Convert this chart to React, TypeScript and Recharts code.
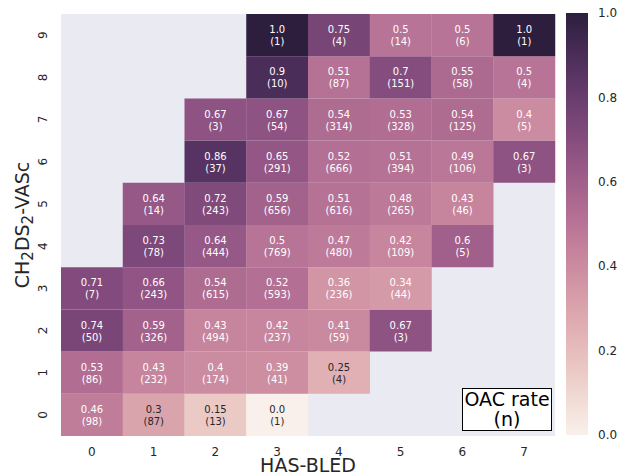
import React from 'react';
import { BarChart, Bar, XAxis, YAxis, CartesianGrid, Cell, LabelList, Label } from 'recharts';

// HAS-BLED score columns, CHA2DS2-VASc rows (bottom to top)
const hasBled = ['0', '1', '2', '3', '4', '5', '6', '7'];
const chadsVasc = [0, 1, 2, 3, 4, 5, 6, 7, 8, 9];

// OAC rate per cell, one row per CHA2DS2-VASc score (null = no patients)
const oacRate: (number | null)[][] = [
  [0.46, 0.3, 0.15, 0.0, null, null, null, null],
  [0.53, 0.43, 0.4, 0.39, 0.25, null, null, null],
  [0.74, 0.59, 0.43, 0.42, 0.41, 0.67, null, null],
  [0.71, 0.66, 0.54, 0.52, 0.36, 0.34, null, null],
  [null, 0.73, 0.64, 0.5, 0.47, 0.42, 0.6, null],
  [null, 0.64, 0.72, 0.59, 0.51, 0.48, 0.43, null],
  [null, null, 0.86, 0.65, 0.52, 0.51, 0.49, 0.67],
  [null, null, 0.67, 0.67, 0.54, 0.53, 0.54, 0.4],
  [null, null, null, 0.9, 0.51, 0.7, 0.55, 0.5],
  [null, null, null, 1.0, 0.75, 0.5, 0.5, 1.0],
];

// number of patients per cell
const patients: (number | null)[][] = [
  [98, 87, 13, 1, null, null, null, null],
  [86, 232, 174, 41, 4, null, null, null],
  [50, 326, 494, 237, 59, 3, null, null],
  [7, 243, 615, 593, 236, 44, null, null],
  [null, 78, 444, 769, 480, 109, 5, null],
  [null, 14, 243, 656, 616, 265, 46, null],
  [null, null, 37, 291, 666, 394, 106, 3],
  [null, null, 3, 54, 314, 328, 125, 5],
  [null, null, null, 10, 87, 151, 58, 4],
  [null, null, null, 1, 4, 14, 6, 1],
];

const colorbarTicks = [0, 0.2, 0.4, 0.6, 0.8, 1.0];
const colorbarSpan = [{ name: 'OAC rate', v: 1 }];

const FONT = '"DejaVu Sans", sans-serif';
const INK = '#262626';

// seaborn cubehelix_palette(light=.95, dark=.15) as a continuous map
function cubehelix(v: number): number[] {
  const x = 0.95 - 0.8 * v;
  const a = (0.8 * x * (1 - x)) / 2;
  const phi = 2 * Math.PI * 0.4 * x;
  const c = Math.cos(phi);
  const s = Math.sin(phi);
  return [
    x + a * (-0.14861 * c + 1.78277 * s),
    x + a * (-0.29227 * c - 0.90649 * s),
    x + a * (1.97294 * c),
  ].map((k) => Math.min(1, Math.max(0, k)));
}

const toHex = (rgb: number[]) =>
  '#' + rgb.map((k) => Math.round(k * 255).toString(16).padStart(2, '0')).join('');

const luminance = (rgb: number[]) => {
  const lin = rgb.map((k) => (k <= 0.03928 ? k / 12.92 : Math.pow((k + 0.055) / 1.055, 2.4)));
  return 0.2126 * lin[0] + 0.7152 * lin[1] + 0.0722 * lin[2];
};

const fmtRate = (v: number) => (Number.isInteger(v) ? v.toFixed(1) : String(v));

// every cell is one unit tall; stacking 10 of them builds the grid
const columns = hasBled.map((label) => {
  const d: Record<string, any> = { label };
  chadsVasc.forEach((r) => (d[`r${r}`] = 1));
  return d;
});

const CellText = (p: any) => {
  const col = p.index;
  const v = oacRate[p.row][col];
  if (v == null) return null;
  const cx = p.x + p.width / 2;
  const cy = p.y + p.height / 2;
  const fill = luminance(cubehelix(v)) > 0.408 ? INK : '#ffffff';
  return (
    <text textAnchor="middle" dominantBaseline="central" fontSize={10} fontFamily={FONT} fill={fill}>
      <tspan x={cx} y={cy - 6}>{fmtRate(v)}</tspan>
      <tspan x={cx} y={cy + 6}>({patients[p.row][col]})</tspan>
    </text>
  );
};

const YTick = (p: any) => {
  const cx = p.x - 10;
  return (
    <text
      x={cx}
      y={p.y}
      transform={`rotate(-90 ${cx} ${p.y})`}
      textAnchor="middle"
      dominantBaseline="central"
      fontSize={12}
      fontFamily={FONT}
      fill={INK}
    >
      {p.payload.value - 0.5}
    </text>
  );
};

const YTitle = (p: any) => {
  const vb = p.viewBox ?? { y: 14, height: 422 };
  const cy = vb.y + vb.height / 2;
  const bx = 29;
  return (
    <text
      x={bx}
      y={cy}
      transform={`rotate(-90 ${bx} ${cy})`}
      textAnchor="middle"
      fontSize={19}
      fontFamily={FONT}
      fill={INK}
    >
      CH<tspan fontSize={15} dy={4}>2</tspan>
      <tspan dy={-4}>DS</tspan>
      <tspan fontSize={15} dy={4}>2</tspan>
      <tspan dy={-4}>-VASc</tspan>
    </text>
  );
};

const gradientStops = Array.from({ length: 21 }, (_, i) => i / 20);

export default function App() {
  return (
    <div style={{ position: 'absolute', left: 0, top: 0, width: 630, height: 475, background: '#fff' }}>
      <BarChart
        width={560}
        height={475}
        data={columns}
        margin={{ top: 14, right: 5, bottom: 0, left: 0 }}
        barCategoryGap={0}
        barGap={0}
      >
        <CartesianGrid fill="#EAEAF2" horizontal={false} vertical={false} />
        <XAxis
          dataKey="label"
          height={39}
          axisLine={false}
          tickLine={false}
          tickMargin={5}
          interval={0}
          tick={{ fontSize: 12, fill: INK, fontFamily: FONT }}
        >
          <Label value="HAS-BLED" position="insideBottom" offset={3} style={{ fontSize: 19, fill: INK, fontFamily: FONT }} />
        </XAxis>
        <YAxis
          type="number"
          domain={[0, 10]}
          ticks={chadsVasc.map((r) => r + 0.5)}
          interval={0}
          width={61}
          axisLine={false}
          tickLine={false}
          tick={<YTick />}
        >
          <Label content={<YTitle />} />
        </YAxis>
        {chadsVasc.map((row) => (
          <Bar key={row} dataKey={`r${row}`} stackId="grid" isAnimationActive={false}>
            {hasBled.map((_, col) => {
              const v = oacRate[row][col];
              return <Cell key={col} fill={v == null ? 'transparent' : toHex(cubehelix(v))} />;
            })}
            <LabelList dataKey={`r${row}`} content={(p: any) => <CellText {...p} row={row} />} />
          </Bar>
        ))}
      </BarChart>

      <div style={{ position: 'absolute', left: 560, top: 0 }}>
        <BarChart
          width={70}
          height={475}
          data={colorbarSpan}
          margin={{ top: 13, right: 0, bottom: 40, left: 6 }}
          barCategoryGap={0}
        >
          <defs>
            <linearGradient id="oacCmap" x1="0" y1="0" x2="0" y2="1">
              {gradientStops.map((t) => (
                <stop key={t} offset={t} stopColor={toHex(cubehelix(1 - t))} />
              ))}
            </linearGradient>
          </defs>
          <XAxis dataKey="name" hide />
          <YAxis
            orientation="right"
            type="number"
            domain={[0, 1]}
            ticks={colorbarTicks}
            width={42}
            axisLine={false}
            tickLine={false}
            tickMargin={4}
            tickFormatter={(v: number) => v.toFixed(1)}
            tick={{ fontSize: 12, fill: INK, fontFamily: FONT }}
          />
          <Bar dataKey="v" fill="url(#oacCmap)" isAnimationActive={false} />
        </BarChart>
      </div>

      <div
        style={{
          position: 'absolute',
          left: 462,
          top: 388,
          width: 90,
          height: 43,
          boxSizing: 'border-box',
          border: '1px solid #000',
          background: '#fff',
          fontFamily: FONT,
          fontSize: 19,
          lineHeight: '20px',
          textAlign: 'center',
          color: '#000',
          whiteSpace: 'nowrap',
        }}
      >
        OAC rate
        <br />
        (n)
      </div>
    </div>
  );
}
